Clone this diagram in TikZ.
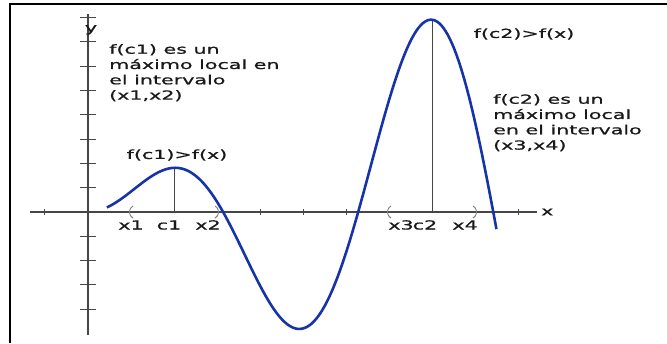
\documentclass[tikz,border=0pt]{standalone}
\usepackage{fontspec}
\newfontfamily\lblfont[FakeStretch=1.65, FakeBold=0.9]{DejaVu Sans}
\usepackage{tikz}
\usetikzlibrary{arrows.meta, positioning, calc}
\definecolor{curveblue}{RGB}{22,52,168}
\definecolor{axisgray}{RGB}{70,70,70}

\begin{document}
\begin{tikzpicture}[x=43pt, y=24.3pt,
    lbl/.style={font=\lblfont\fontsize{12.5}{15.3}\selectfont, inner sep=0pt, text=black!90},
    ax/.style={axisgray, line width=1.2pt},
    tickmark/.style={axisgray, line width=1pt},
    paren/.style={gray, line width=0.9pt},
    curve/.style={curveblue, line width=2.6pt}]
    \useasboundingbox (-88pt,-131pt) rectangle (579pt,212pt);
    \draw[line width=2pt] (-78pt,-131pt) -- (-78pt,208pt) -- (579pt,208pt);

    \coordinate (xl) at (-58pt,0);
    \coordinate (xr) at (449pt,0);
    \coordinate (yb) at (0,-123pt);
    \coordinate (yt) at (0,198pt);
    \draw[ax] (xl) -- (xr);
    \draw[ax] (yb) -- (yt);
    \node[lbl, right=4pt of xr] (xlab) {x};
    \node[lbl, anchor=base] (ylab) at (3pt,180pt) {y};

    \foreach \i in {-1,4,5,6,10} \draw[tickmark] (\i,3pt) -- (\i,-3pt);
    \foreach \j in {-4,-3,-2,-1,1,2,3,4,5,6,7,8} \draw[tickmark] (-8pt,\j) -- (8pt,\j);

    \coordinate (x1) at (1,0);
    \coordinate (c1) at (2,0);
    \coordinate (x2) at (3,0);
    \coordinate (x3) at (7,0);
    \coordinate (c2) at (8,0);
    \coordinate (x4) at (9,0);
    \coordinate (p1) at (2,{2*sin(2 r)});
    \coordinate (p2) at (8,{8*sin(8 r)});
    \draw[tickmark] (c1) -- (p1);
    \draw[tickmark] (c2) -- (p2);
    \foreach \p in {x1,x3} \draw[paren] ([shift={(2pt,6pt)}]\p) arc[start angle=120, end angle=240, radius=7pt];
    \foreach \p in {x2,x4} \draw[paren] ([shift={(-2pt,6pt)}]\p) arc[start angle=60, end angle=-60, radius=7pt];

    \draw[curve] plot[domain=0.44:9.5, samples=120, smooth] (\x,{\x*sin(\x r)});

    \node[lbl, anchor=base] (lx1) at (43pt,-17.5pt) {x1};
    \node[lbl, anchor=base] (lc1) at (81pt,-17.5pt) {c1};
    \node[lbl, anchor=base] (lx2) at (120pt,-17.5pt) {x2};
    \node[lbl, anchor=base] (lx3) at (313pt,-17.5pt) {x3};
    \node[lbl, anchor=base] (lc2) at (337pt,-17.5pt) {c2};
    \node[lbl, anchor=base] (lx4) at (377pt,-17.5pt) {x4};

    \node[lbl] (m1) at (89pt,57pt) {f(c1)>f(x)};
    \node[lbl] (m2) at (436pt,178pt) {f(c2)>f(x)};
    \node[lbl, anchor=north west, align=left] (t1) at (21pt,168pt) {f(c1) es un\\máximo local en\\el intervalo\\(x1,x2)};
    \node[lbl, anchor=north west, align=left] (t2) at (405pt,118pt) {f(c2) es un\\máximo local\\en el intervalo\\(x3,x4)};
\end{tikzpicture}
\end{document}
